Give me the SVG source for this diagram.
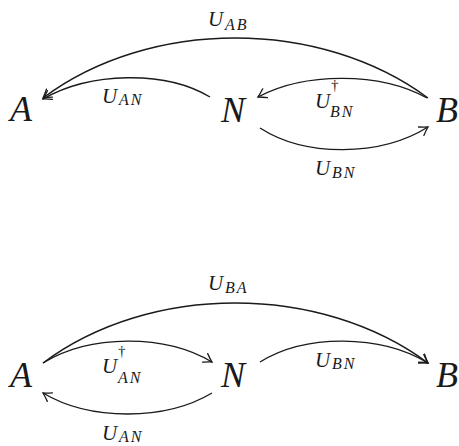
<svg xmlns="http://www.w3.org/2000/svg" width="459" height="446" viewBox="0 0 459 446">
<defs>
<marker id="arr" markerUnits="userSpaceOnUse" markerWidth="16" markerHeight="16" viewBox="-10 -8 12 16" refX="0" refY="0" orient="auto">
<path d="M -8 -5 Q -3 -1.5 0 0 Q -3 1.5 -8 5" fill="none" stroke="#1a1a1a" stroke-width="1.3" stroke-linecap="round"/>
</marker>
</defs>
<rect width="459" height="446" fill="#ffffff"/>
<g id="top-A"><text x="10" y="121" font-family="serif" font-style="italic" font-size="36" fill="#1a1a1a">A</text></g>
<g id="top-N"><text x="221" y="122" font-family="serif" font-style="italic" font-size="36" fill="#1a1a1a">N</text></g>
<g id="top-B"><text x="436" y="122" font-family="serif" font-style="italic" font-size="36" fill="#1a1a1a">B</text></g>
<g id="bottom-A"><text x="10" y="387" font-family="serif" font-style="italic" font-size="36" fill="#1a1a1a">A</text></g>
<g id="bottom-N"><text x="221" y="387" font-family="serif" font-style="italic" font-size="36" fill="#1a1a1a">N</text></g>
<g id="bottom-B"><text x="436" y="387" font-family="serif" font-style="italic" font-size="36" fill="#1a1a1a">B</text></g>
<g id="connectors">
<g fill="none" stroke="#1a1a1a" stroke-width="1.4" marker-end="url(#arr)">
<path d="M 428 98 C 320 18, 150 18, 43 98"/>
<path d="M 210 97 C 165 70, 90 72, 43 99"/>
<path d="M 427 98 C 380 72, 305 72, 258 97"/>
<path d="M 260 128 C 305 157, 380 157, 428 127"/>
<path d="M 43 363 C 150 283, 320 283, 428 363"/>
<path d="M 43 363 C 90 334, 165 334, 212 362"/>
<path d="M 260 362 C 305 334, 380 334, 428 363"/>
<path d="M 212 393 C 165 421, 90 421, 43 393"/>
</g>
<text font-family="serif" font-style="italic" font-size="21" fill="#1a1a1a"><tspan x="208" y="26">U</tspan><tspan x="225" y="30" font-size="16" letter-spacing="2">AB</tspan></text>
<text font-family="serif" font-style="italic" font-size="21" fill="#1a1a1a"><tspan x="102" y="103">U</tspan><tspan x="119" y="105" font-size="16" letter-spacing="2">AN</tspan></text>
<text font-family="serif" font-style="italic" font-size="21" fill="#1a1a1a"><tspan x="315" y="108">U</tspan><tspan x="331" y="90" font-style="normal" font-size="15">†</tspan><tspan x="330" y="117" font-size="16" letter-spacing="2">BN</tspan></text>
<text font-family="serif" font-style="italic" font-size="21" fill="#1a1a1a"><tspan x="315" y="175">U</tspan><tspan x="332" y="178" font-size="16" letter-spacing="2">BN</tspan></text>
<text font-family="serif" font-style="italic" font-size="21" fill="#1a1a1a"><tspan x="208" y="290">U</tspan><tspan x="225" y="293" font-size="16" letter-spacing="2">BA</tspan></text>
<text font-family="serif" font-style="italic" font-size="21" fill="#1a1a1a"><tspan x="102" y="373">U</tspan><tspan x="118" y="356" font-style="normal" font-size="15">†</tspan><tspan x="118" y="383" font-size="16" letter-spacing="2">AN</tspan></text>
<text font-family="serif" font-style="italic" font-size="21" fill="#1a1a1a"><tspan x="315" y="367">U</tspan><tspan x="332" y="369" font-size="16" letter-spacing="2">BN</tspan></text>
<text font-family="serif" font-style="italic" font-size="21" fill="#1a1a1a"><tspan x="102" y="440">U</tspan><tspan x="119" y="442" font-size="16" letter-spacing="2">AN</tspan></text>
</g>
</svg>
